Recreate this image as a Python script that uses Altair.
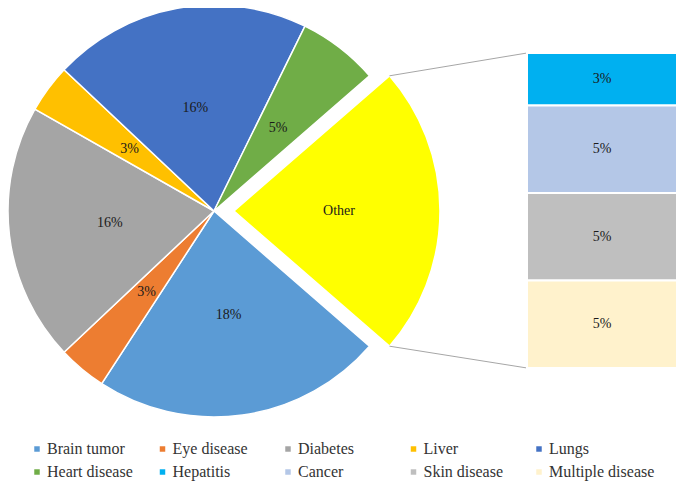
import math
import altair as alt
import pandas as pd

# ---- data ----
pie_names = ["Brain tumor", "Eye disease", "Diabetes", "Liver", "Lungs", "Heart disease", "Other"]
pie_values = [18, 3, 16, 3, 16, 5, 18]
pie_texts = ["18%", "3%", "16%", "3%", "16%", "5%", "Other"]

bar_names = ["Hepatitis", "Cancer", "Skin disease", "Multiple disease"]
bar_values = [3, 5, 5, 5]
bar_texts = ["3%", "5%", "5%", "5%"]

legend_names = pie_names[:6] + bar_names
colors = ["#5B9BD5", "#ED7D31", "#A5A5A5", "#FFC000", "#4472C4", "#70AD47",
          "#00B0F0", "#B4C7E7", "#BFBFBF", "#FFF2CC", "#FFFF00"]

# ---- layout ----
W, H = 669, 473
CX, CY, R = 206, 203, 206
EXPLODE = 20
LABEL_R = 105
BAR_X0, BAR_X1 = 519, 669
BAR_TOP, BAR_BOTTOM = 45, 360
FONT = "Liberation Serif, Times New Roman, serif"

total = sum(pie_values)
other_half = math.pi * pie_values[-1] / total
start = math.pi / 2 + other_half
theta_scale = alt.Scale(domain=[0, total], range=[start, start + 2 * math.pi])
y_scale = alt.Scale(domain=[0, sum(bar_values)], range=[BAR_BOTTOM, BAR_TOP])

color = alt.Color(
    "name:N",
    scale=alt.Scale(domain=legend_names + ["Other"], range=colors),
    legend=alt.Legend(
        values=legend_names, title=None, orient="none", legendX=21, legendY=433,
        direction="horizontal", columns=5, symbolType="square", symbolSize=30,
        symbolStrokeWidth=0, labelFont=FONT, labelFontSize=16, labelColor="#333333",
        labelOffset=2, columnPadding=1.5, rowPadding=7, gridAlign="all", padding=0,
        labelLimit=200,
    ),
)

pie_df = pd.DataFrame({"name": pie_names, "value": pie_values,
                       "label": pie_texts, "idx": list(range(len(pie_names)))})
pie_base = alt.Chart(pie_df).transform_window(
    cum="sum(value)", sort=[alt.SortField("idx")]
).transform_calculate(
    start="datum.cum - datum.value", mid="datum.cum - datum.value / 2"
)

main_slices = pie_base.transform_filter("datum.name != 'Other'").mark_arc(
    radius=R, stroke="white", strokeWidth=1.5
).encode(
    theta=alt.Theta("start:Q", scale=theta_scale), theta2="cum:Q",
    color=color, x=alt.value(CX), y=alt.value(CY),
)
other_slice = pie_base.transform_filter("datum.name == 'Other'").mark_arc(
    radius=R, stroke="white", strokeWidth=1.5
).encode(
    theta=alt.Theta("start:Q", scale=theta_scale), theta2="cum:Q",
    color=color, x=alt.value(CX + EXPLODE), y=alt.value(CY),
)
main_labels = pie_base.transform_filter("datum.name != 'Other'").mark_text(
    radius=LABEL_R, font=FONT, fontSize=14, color="#1a1a1a"
).encode(
    theta=alt.Theta("mid:Q", scale=theta_scale), text="label:N",
    x=alt.value(CX), y=alt.value(CY),
)
other_label = pie_base.transform_filter("datum.name == 'Other'").mark_text(
    radius=LABEL_R, font=FONT, fontSize=14, color="#1a1a1a"
).encode(
    theta=alt.Theta("mid:Q", scale=theta_scale), text="label:N",
    x=alt.value(CX + EXPLODE), y=alt.value(CY),
)

bar_df = pd.DataFrame({"name": bar_names, "value": bar_values,
                       "label": bar_texts, "idx": list(range(len(bar_names)))})
bar_base = alt.Chart(bar_df).transform_window(
    cum="sum(value)", sort=[alt.SortField("idx", order="descending")]
).transform_calculate(
    start="datum.cum - datum.value", mid="datum.cum - datum.value / 2"
)
bars = bar_base.mark_bar(stroke="white", strokeWidth=2).encode(
    x=alt.value(BAR_X0), x2=alt.value(BAR_X1),
    y=alt.Y("start:Q", scale=y_scale, axis=None), y2="cum:Q",
    color=color,
)
bar_labels = bar_base.mark_text(font=FONT, fontSize=14, color="#1a1a1a").encode(
    x=alt.value((BAR_X0 + BAR_X1) / 2),
    y=alt.Y("mid:Q", scale=y_scale, axis=None),
    text="label:N",
)

# connector lines from exploded slice corners to bar corners
ox = CX + EXPLODE
corner_x = ox + R * math.cos(other_half)
top_corner_y = CY - R * math.sin(other_half)
bot_corner_y = CY + R * math.sin(other_half)
conn_top = alt.Chart(pd.DataFrame({"k": [0]})).mark_rule(color="#A6A6A6", strokeWidth=1).encode(
    x=alt.value(corner_x), y=alt.value(top_corner_y),
    x2=alt.value(BAR_X0), y2=alt.value(BAR_TOP),
)
conn_bot = alt.Chart(pd.DataFrame({"k": [0]})).mark_rule(color="#A6A6A6", strokeWidth=1).encode(
    x=alt.value(corner_x), y=alt.value(bot_corner_y),
    x2=alt.value(BAR_X0), y2=alt.value(BAR_BOTTOM),
)

chart = alt.layer(
    main_slices, other_slice, conn_top, conn_bot, bars, main_labels, other_label, bar_labels
).properties(
    width=W, height=H, autosize=alt.AutoSizeParams(type="none"), padding=0
).configure_view(stroke=None)

chart.save("out.html", embed_options={"renderer": "svg", "actions": False})
